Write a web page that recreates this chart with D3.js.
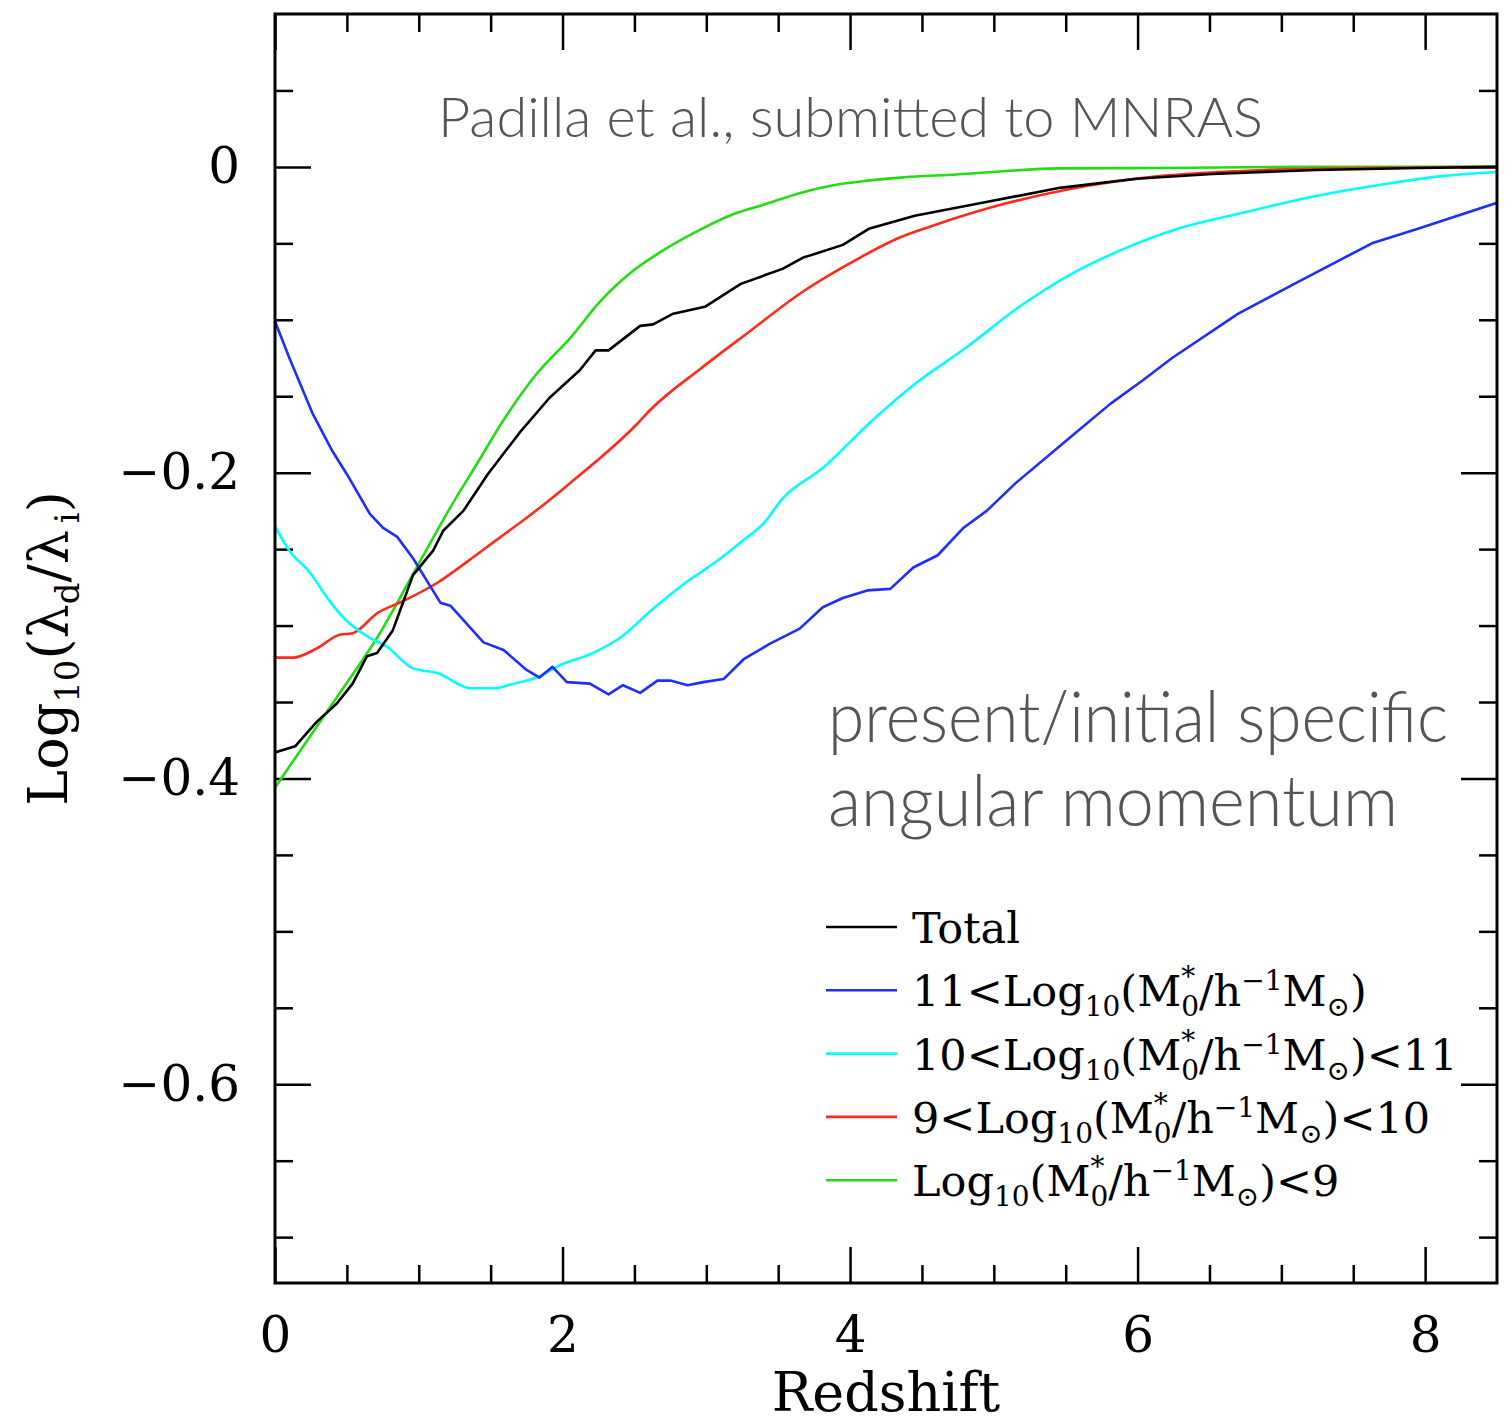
<!DOCTYPE html>
<html>
<head>
<meta charset="utf-8">
<script src="https://cdn.jsdelivr.net/npm/d3@7"></script>
<style>
body { margin: 0; background: #fff; }
</style>
</head>
<body>
<svg id="chart" width="1511" height="1425"></svg>
<script>
// readings of Log10(lambda_d / lambda_i) against redshift, one pair of arrays per mass bin
const zTotal = [0, 0.14, 0.29, 0.43, 0.54, 0.64, 0.71, 0.82, 0.96, 1.10, 1.17, 1.31, 1.48, 1.70, 1.91, 2.12, 2.23, 2.32, 2.54, 2.63, 2.77, 2.99, 3.24, 3.53, 3.67, 3.95, 4.13, 4.45, 4.92, 5.46, 5.99, 6.52, 7.24, 7.95, 8.5];
const vTotal = [-0.383, -0.379, -0.363, -0.351, -0.338, -0.320, -0.318, -0.303, -0.267, -0.251, -0.238, -0.225, -0.201, -0.174, -0.151, -0.133, -0.120, -0.120, -0.104, -0.103, -0.096, -0.0915, -0.0765, -0.0667, -0.0595, -0.051, -0.0405, -0.032, -0.0235, -0.0137, -0.0078, -0.0046, -0.002, -0.0007, 0];

const zHigh = [0, 0.10, 0.26, 0.40, 0.50, 0.66, 0.75, 0.85, 0.96, 1.15, 1.22, 1.45, 1.59, 1.75, 1.84, 1.93, 2.03, 2.19, 2.32, 2.42, 2.54, 2.66, 2.75, 2.87, 2.98, 3.12, 3.26, 3.44, 3.65, 3.81, 3.95, 4.12, 4.28, 4.44, 4.61, 4.79, 4.95, 5.15, 5.53, 5.81, 6.03, 6.24, 6.70, 7.10, 7.63, 7.95, 8.5];
const vHigh = [-0.101, -0.125, -0.161, -0.186, -0.201, -0.227, -0.236, -0.242, -0.256, -0.285, -0.287, -0.311, -0.316, -0.329, -0.334, -0.327, -0.337, -0.338, -0.345, -0.339, -0.344, -0.336, -0.336, -0.339, -0.337, -0.335, -0.322, -0.312, -0.302, -0.288, -0.282, -0.277, -0.276, -0.262, -0.254, -0.236, -0.225, -0.207, -0.177, -0.155, -0.140, -0.125, -0.096, -0.076, -0.050, -0.0405, -0.0235];

const zMid = [0, 0.10, 0.24, 0.38, 0.50, 0.64, 0.78, 0.96, 1.13, 1.36, 1.52, 1.66, 1.82, 1.98, 2.21, 2.40, 2.63, 2.87, 2.98, 3.10, 3.26, 3.40, 3.53, 3.81, 4.13, 4.45, 4.81, 5.17, 5.56, 5.92, 6.28, 6.70, 7.24, 7.77, 8.13, 8.5];
const vMid = [-0.235, -0.251, -0.265, -0.284, -0.297, -0.307, -0.314, -0.328, -0.331, -0.341, -0.341, -0.338, -0.334, -0.326, -0.318, -0.308, -0.289, -0.271, -0.264, -0.256, -0.244, -0.233, -0.217, -0.197, -0.168, -0.142, -0.118, -0.092, -0.069, -0.053, -0.0405, -0.0307, -0.019, -0.0105, -0.0059, -0.0033];

const zLow = [0, 0.125, 0.29, 0.45, 0.54, 0.71, 0.89, 1.13, 1.34, 1.57, 1.73, 2.05, 2.52, 2.61, 2.96, 3.31, 3.65, 4.00, 4.35, 4.57, 5.10, 5.53, 6.17, 6.88, 7.59, 8.5];
const vLow = [-0.321, -0.321, -0.315, -0.306, -0.305, -0.292, -0.284, -0.272, -0.258, -0.242, -0.231, -0.207, -0.168, -0.159, -0.132, -0.107, -0.083, -0.063, -0.046, -0.0386, -0.0235, -0.0144, -0.0059, -0.002, -0.0007, 0];

const zDwarf = [0, 0.174, 0.452, 0.71, 1.009, 1.218, 1.406, 1.587, 1.823, 2.053, 2.262, 2.491, 2.728, 2.958, 3.187, 3.424, 3.653, 3.883, 4.12, 4.349, 4.739, 5.456, 6.166, 7.133, 8.5];
const vDwarf = [-0.406, -0.382, -0.344, -0.308, -0.258, -0.223, -0.194, -0.166, -0.135, -0.112, -0.088, -0.068, -0.053, -0.041, -0.031, -0.024, -0.017, -0.012, -0.009, -0.007, -0.005, -0.001, -0.0007, 0, 0];

const xMajorTicks = [0, 2, 4, 6, 8];
const yMajorTicks = [0, -0.2, -0.4, -0.6];

const series = [
    { name: 'total', z: zTotal, v: vTotal, color: '#000000', smooth: false },
    { name: 'high', z: zHigh, v: vHigh, color: '#1f2dff', smooth: false },
    { name: 'mid', z: zMid, v: vMid, color: '#00ffff', smooth: true },
    { name: 'low', z: zLow, v: vLow, color: '#ff2a1a', smooth: true },
    { name: 'dwarf', z: zDwarf, v: vDwarf, color: '#22dd11', smooth: true }
];

// legend entries as text pieces: n = normal, sub = subscript, sup = superscript, star = stacked M*_0
const massPart = [['sub', '10'], ['n', '(M'], ['star', ''], ['n', '/h'], ['sup', '\u22121'], ['n', 'M'], ['sub', '\u2299']];
const legendLabels = [
    [['n', 'Total']],
    [['n', '11<Log'], ...massPart, ['n', ')']],
    [['n', '10<Log'], ...massPart, ['n', ')<11']],
    [['n', '9<Log'], ...massPart, ['n', ')<10']],
    [['n', 'Log'], ...massPart, ['n', ')<9']]
];

const svg = d3.select('#chart');
const margin = { left: 275, top: 14, right: 14, bottom: 142 };
const width = 1511 - margin.left - margin.right;
const height = 1425 - margin.top - margin.bottom;
const serif = '"DejaVu Serif", serif';

const x = d3.scaleLinear().domain([0, 8.5]).range([0, width]);
const y = d3.scaleLinear().domain([-0.73, 0.1]).range([height, 0]);

const g = svg.append('g').attr('transform', `translate(${margin.left},${margin.top})`);

const xMinorTicks = d3.range(0.5, 8.5, 0.5).filter(d => d % 2 !== 0);
const yMinorTicks = d3.range(-14, 2).map(d => d * 0.05).filter(d => Math.abs(d / 0.2 - Math.round(d / 0.2)) > 1e-6);

function styleAxis(sel) {
    sel.select('.domain').remove();
    sel.selectAll('line').attr('stroke', '#000').attr('stroke-width', 2.5);
    sel.selectAll('text').attr('fill', '#000').style('font-family', serif).style('font-size', '50px');
}

const yFmt = d => d === 0 ? '0' : d3.format('.1f')(d);

g.append('g').attr('transform', `translate(0,${height})`)
    .call(d3.axisBottom(x).tickValues(xMajorTicks).tickSize(-36).tickPadding(33).tickFormat(d3.format('d')))
    .call(styleAxis);
g.append('g').attr('transform', `translate(0,${height})`)
    .call(d3.axisBottom(x).tickValues(xMinorTicks).tickSize(-18).tickFormat(''))
    .call(styleAxis);
g.append('g')
    .call(d3.axisTop(x).tickValues(xMajorTicks).tickSize(-36).tickFormat(''))
    .call(styleAxis);
g.append('g')
    .call(d3.axisTop(x).tickValues(xMinorTicks).tickSize(-18).tickFormat(''))
    .call(styleAxis);

g.append('g')
    .call(d3.axisLeft(y).tickValues(yMajorTicks).tickSize(-36).tickPadding(35).tickFormat(yFmt))
    .call(styleAxis);
g.append('g')
    .call(d3.axisLeft(y).tickValues(yMinorTicks).tickSize(-18).tickFormat(''))
    .call(styleAxis);
g.append('g').attr('transform', `translate(${width},0)`)
    .call(d3.axisRight(y).tickValues(yMajorTicks).tickSize(-36).tickFormat(''))
    .call(styleAxis);
g.append('g').attr('transform', `translate(${width},0)`)
    .call(d3.axisRight(y).tickValues(yMinorTicks).tickSize(-18).tickFormat(''))
    .call(styleAxis);

g.append('clipPath').attr('id', 'plotClip')
    .append('rect').attr('width', width).attr('height', height);

const lineJagged = d3.line().x(d => x(d[0])).y(d => y(d[1]));
const lineSmooth = d3.line().x(d => x(d[0])).y(d => y(d[1])).curve(d3.curveMonotoneX);

g.append('g').attr('clip-path', 'url(#plotClip)')
    .selectAll('path')
    .data(series.slice().reverse())
    .join('path')
    .attr('d', s => (s.smooth ? lineSmooth : lineJagged)(d3.zip(s.z, s.v)))
    .attr('fill', 'none')
    .attr('stroke', s => s.color)
    .attr('stroke-width', 2.6)
    .attr('stroke-linejoin', 'round');

g.append('rect')
    .attr('width', width).attr('height', height)
    .attr('fill', 'none').attr('stroke', '#000').attr('stroke-width', 3);

// writes pieces into a text element, shifting the baseline via dy on the next real glyph
function richText(t, pieces, smallSize, subShift, supShift) {
    let cur = 0;
    pieces.forEach(([kind, str]) => {
        if (kind === 'n') {
            t.append('tspan').attr('dy', -cur).text(str);
            cur = 0;
        } else if (kind === 'sub') {
            t.append('tspan').attr('dy', subShift - cur).style('font-size', smallSize).text(str);
            cur = subShift;
        } else if (kind === 'sup') {
            t.append('tspan').attr('dy', -supShift - cur).style('font-size', smallSize).text(str);
            cur = -supShift;
        } else if (kind === 'star') {
            t.append('tspan').attr('dy', -supShift - 4 - cur).style('font-size', smallSize).text('*');
            t.append('tspan').attr('dx', -14).attr('dy', subShift + supShift + 4).style('font-size', smallSize).text('0');
            cur = subShift;
        }
    });
}

// axis titles
svg.append('text')
    .attr('x', margin.left + width / 2).attr('y', 1411)
    .attr('text-anchor', 'middle')
    .style('font-family', serif).style('font-size', '54px')
    .text('Redshift');

const yTitle = svg.append('text')
    .attr('transform', `translate(67,${margin.top + height / 2}) rotate(-90)`)
    .attr('text-anchor', 'middle')
    .style('font-family', serif).style('font-size', '54px');
richText(yTitle, [['n', 'Log'], ['sub', '10'], ['n', '(\u03bb'], ['sub', 'd'], ['n', '/\u03bb'], ['sub', '\u2009i'], ['n', ')']], '34px', 12, 16);

// annotations
const sans = 'Lato, "Open Sans", sans-serif';
svg.append('text')
    .attr('x', 438).attr('y', 137)
    .attr('textLength', 825).attr('lengthAdjust', 'spacingAndGlyphs')
    .attr('fill', '#555')
    .style('font-family', sans).style('font-weight', 300).style('font-size', '56px')
    .text('Padilla et al., submitted to MNRAS');

svg.append('text')
    .attr('x', 828).attr('y', 742)
    .attr('textLength', 620).attr('lengthAdjust', 'spacingAndGlyphs')
    .attr('fill', '#555')
    .style('font-family', sans).style('font-weight', 300).style('font-size', '70px')
    .text('present/initial specific');

svg.append('text')
    .attr('x', 828).attr('y', 826)
    .attr('textLength', 570).attr('lengthAdjust', 'spacingAndGlyphs')
    .attr('fill', '#555')
    .style('font-family', sans).style('font-weight', 300).style('font-size', '70px')
    .text('angular momentum');

// legend
const legend = svg.append('g').attr('transform', 'translate(826,927)');
const legendStep = 63.3;

series.forEach((s, i) => {
    const row = legend.append('g').attr('transform', `translate(0,${i * legendStep})`);
    row.append('line')
        .attr('x1', 0).attr('x2', 71).attr('y1', 0).attr('y2', 0)
        .attr('stroke', s.color).attr('stroke-width', 2.6);
    const t = row.append('text')
        .attr('x', 86).attr('y', 16)
        .style('font-family', serif).style('font-size', '43px');
    richText(t, legendLabels[i], '28px', 10, 16);
});
</script>
</body>
</html>
